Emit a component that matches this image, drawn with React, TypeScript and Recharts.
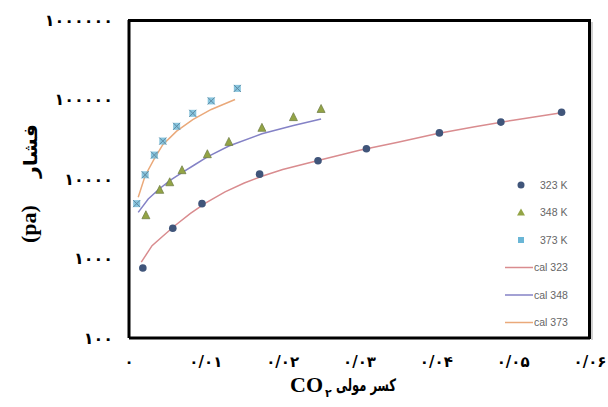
import { ScatterChart, Scatter, XAxis, YAxis } from 'recharts'

// measured points
const x323 = [0.0018, 0.0057, 0.0095, 0.017, 0.0246, 0.0309, 0.0404, 0.0484, 0.0563]
const p323 = [760, 2400, 4900, 11500, 17000, 24000, 38000, 52000, 69000]
const x348 = [0.0022, 0.004, 0.0053, 0.0069, 0.0102, 0.013, 0.0173, 0.0214, 0.025]
const p348 = [3500, 7300, 9100, 12900, 20500, 29300, 44000, 60000, 76000]
const x373 = [0.001, 0.0021, 0.0033, 0.0044, 0.0062, 0.0083, 0.0107, 0.0141]
const p373 = [4900, 11300, 20000, 30000, 46000, 67000, 96000, 138000]

// calculated curves
const xc323 = [0.0016, 0.003, 0.0045, 0.006, 0.008, 0.01, 0.0125, 0.015, 0.0175, 0.02, 0.025, 0.03, 0.035, 0.04, 0.045, 0.05, 0.0563]
const pc323 = [900, 1450, 1950, 2600, 3700, 5000, 6900, 8900, 11000, 13200, 17500, 23000, 29000, 37000, 45500, 55000, 68000]
const xc348 = [0.0012, 0.0025, 0.004, 0.0055, 0.0069, 0.0085, 0.0102, 0.013, 0.0173, 0.0214, 0.025]
const pc348 = [3800, 5600, 7600, 9800, 12000, 15000, 19000, 26000, 37000, 47000, 57000]
const xc373 = [0.0012, 0.0021, 0.0033, 0.0044, 0.0062, 0.0083, 0.0107, 0.0138]
const pc373 = [5900, 11000, 18000, 27000, 40000, 56000, 75000, 100000]

const xTicks = [0, 0.01, 0.02, 0.03, 0.04, 0.05, 0.06]
const yTicks = [100, 1000, 10000, 100000, 1000000]

const COLORS = {
  k323: '#40557a',
  k348: '#93a445',
  k373: '#6ab6d6',
  c323: '#d98c8f',
  c348: '#8482c6',
  c373: '#eaa97a',
}

const toPts = (xs: number[], ps: number[]) => xs.map((x, i) => ({ x, p: ps[i] }))

const fa = (s: string) => s.replace(/\d/g, d => '۰۱۲۳۴۵۶۷۸۹'[Number(d)])
const fmtX = (v: number) => (v === 0 ? '۰' : fa(v.toFixed(2)).replace('.', '/'))

const Dot = (p: any) => <circle cx={p.cx} cy={p.cy} r={3.8} fill={COLORS.k323} />
const Tri = (p: any) => (
  <polygon
    points={`${p.cx},${p.cy - 4.5} ${p.cx - 4},${p.cy + 3.5} ${p.cx + 4},${p.cy + 3.5}`}
    fill={COLORS.k348}
    stroke="#6c7a44"
    strokeWidth={0.7}
  />
)
const Cross = (p: any) => (
  <g>
    <rect x={p.cx - 3.5} y={p.cy - 3.5} width={7} height={7} fill={COLORS.k373} opacity={0.8} />
    <path d={`M${p.cx - 3.5},${p.cy - 3.5}L${p.cx + 3.5},${p.cy + 3.5}M${p.cx + 3.5},${p.cy - 3.5}L${p.cx - 3.5},${p.cy + 3.5}`} stroke="#5d8aa3" strokeWidth={1} />
  </g>
)
const None = () => null

const xTickStyle = { fontFamily: 'DejaVu Sans', fontWeight: 700, fontSize: 15, fill: '#000' }
const yTickStyle = { fontFamily: 'DejaVu Sans', fontWeight: 700, fontSize: 16, fill: '#000', letterSpacing: 2.2 }

const legendItems = [
  { name: '323 K', kind: 'dot', color: COLORS.k323 },
  { name: '348 K', kind: 'tri', color: COLORS.k348 },
  { name: '373 K', kind: 'x', color: COLORS.k373 },
  { name: 'cal 323', kind: 'line', color: COLORS.c323 },
  { name: 'cal 348', kind: 'line', color: COLORS.c348 },
  { name: 'cal 373', kind: 'line', color: COLORS.c373 },
]

function Overlay() {
  const serif = '"Liberation Serif", serif'
  return (
    <svg width={608} height={407} style={{ position: 'absolute', left: 0, top: 0, pointerEvents: 'none' }}>
      {/* top and right edges of the plot box */}
      <rect x={128} y={19} width={463} height={3} fill="#000" />
      <rect x={588} y={19} width={3} height={320} fill="#000" />
      <rect x={591} y={22} width={2} height={318} fill="#000" fillOpacity={0.18} />

      {/* legend */}
      <g transform="translate(500,170)">
        {legendItems.map((it, i) => {
          const y = 15 + i * 27.5
          return (
            <g key={it.name}>
              {it.kind === 'dot' && <circle cx={21} cy={y} r={3.5} fill={it.color} />}
              {it.kind === 'tri' && <polygon points={`21,${y - 4} 17,${y + 3} 25,${y + 3}`} fill={it.color} />}
              {it.kind === 'x' && <rect x={18} y={y - 3} width={6} height={6} fill={it.color} />}
              {it.kind === 'line' && <line x1={5} x2={33} y1={y} y2={y} stroke={it.color} strokeWidth={1.5} />}
              <text x={it.kind === 'line' ? 34 : 40} y={y + 3.5} fontSize={10.5} fill="#666" fontFamily="Liberation Sans">
                {it.name}
              </text>
            </g>
          )
        })}
      </g>

      {/* x title */}
      <text x={290} y={392} fontFamily={serif} fontWeight={700} fontSize={22}>CO</text>
      <text x={325} y={397} fontFamily="DejaVu Sans" fontWeight={700} fontSize={11}>۲</text>
      <text x={336} y={391} fontFamily="DejaVu Sans" fontWeight={700} fontSize={17} textLength={60} lengthAdjust="spacingAndGlyphs">
        کسر مولی
      </text>

      {/* y title */}
      <text transform="translate(36,243) rotate(-90)" fontFamily={serif} fontWeight={700} fontSize={22}>(pa)</text>
      <text transform="translate(37,178) rotate(-90)" fontFamily="DejaVu Sans" fontWeight={700} fontSize={19} textLength={54} lengthAdjust="spacingAndGlyphs">
        فشار
      </text>
    </svg>
  )
}

export default function App() {
  const line = (c: string) => ({ stroke: c, strokeWidth: 1.5 })
  return (
    <div style={{ position: 'absolute', left: 0, top: 0, width: 608, height: 407, background: '#fff' }}>
      <ScatterChart width={608} height={407} margin={{ top: 20, right: 18, bottom: 39, left: 0 }}>
        <XAxis
          type="number"
          dataKey="x"
          domain={[0, 0.06]}
          ticks={xTicks}
          tickFormatter={fmtX}
          tick={xTickStyle}
          tickLine={false}
          axisLine={{ stroke: '#000', strokeWidth: 3 }}
          height={30}
          tickMargin={12}
          interval={0}
        />
        <YAxis
          type="number"
          dataKey="p"
          scale="log"
          domain={[100, 1000000]}
          ticks={yTicks}
          tickFormatter={(v: number) => fa(String(v))}
          tick={yTickStyle}
          tickLine={false}
          axisLine={{ stroke: '#000', strokeWidth: 3 }}
          width={129}
          tickMargin={10}
          allowDataOverflow
          interval={0}
        />
        <Scatter data={toPts(xc323, pc323)} line={line(COLORS.c323)} lineType="joint" shape={None} isAnimationActive={false} />
        <Scatter data={toPts(xc348, pc348)} line={line(COLORS.c348)} lineType="joint" shape={None} isAnimationActive={false} />
        <Scatter data={toPts(xc373, pc373)} line={line(COLORS.c373)} lineType="joint" shape={None} isAnimationActive={false} />
        <Scatter data={toPts(x323, p323)} shape={Dot} isAnimationActive={false} />
        <Scatter data={toPts(x348, p348)} shape={Tri} isAnimationActive={false} />
        <Scatter data={toPts(x373, p373)} shape={Cross} isAnimationActive={false} />
      </ScatterChart>
      <Overlay />
    </div>
  )
}
